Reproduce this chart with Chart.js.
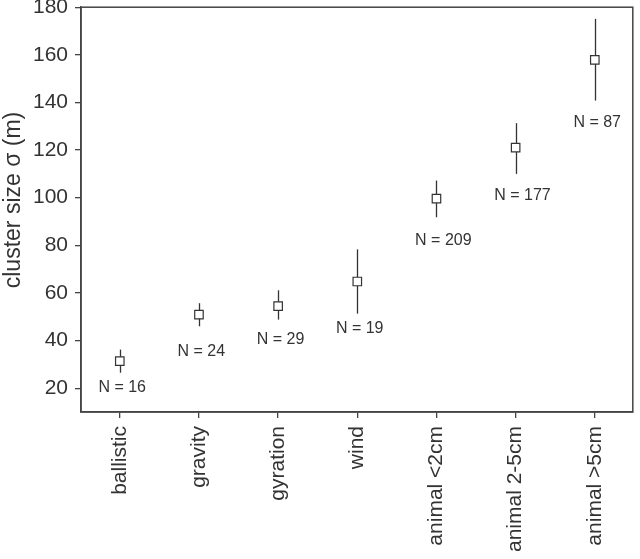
<!DOCTYPE html>
<html>
<head>
<meta charset="utf-8">
<script src="https://cdn.jsdelivr.net/npm/chart.js@4"></script>
<style>
  html, body { margin:0; padding:0; background:#fff; }
  #wrap { width:640px; height:559px; }
</style>
</head>
<body>
<div id="wrap"><canvas id="ch" width="640" height="559"></canvas></div>
<script>
// categorías y valores
const categories = ['ballistic','gravity','gyration','wind','animal <2cm','animal 2-5cm','animal >5cm'];
const means  = [31.4, 50.9, 54.5, 64.8, 99.6, 121.0, 157.9];
const upper  = [36.2, 55.7, 61.1, 78.3, 107.2, 131.3, 175.1];
const lower  = [26.5, 46.0, 48.8, 51.3, 91.8, 110.0, 140.8];
const counts = [16, 24, 29, 19, 209, 177, 87];
const countY = [20.2, 35.2, 40.4, 45.0, 81.8, 100.9, 131.7];
const yTicks = [20, 40, 60, 80, 100, 120, 140, 160, 180];
const yTitle = 'cluster size σ (m)';

const INK = '#333';
const FONT = 'Liberation Sans, Arial, Helvetica, sans-serif';

// barras de error + etiquetas N = ... + marco completo + título del eje y
const extras = {
  id:'extras',
  beforeDatasetsDraw(chart){
    const { ctx, scales:{x, y} } = chart;
    ctx.save();
    ctx.strokeStyle = INK; ctx.lineWidth = 1.3;
    means.forEach((m, i) => {
      const px = Math.round(x.getPixelForValue(i)) + 0.5;
      ctx.beginPath();
      ctx.moveTo(px, y.getPixelForValue(upper[i]));
      ctx.lineTo(px, y.getPixelForValue(lower[i]));
      ctx.stroke();
    });
    ctx.restore();
  },
  afterDraw(chart){
    const { ctx, chartArea:a, scales:{x, y} } = chart;
    ctx.save();
    ctx.fillStyle = INK;
    ctx.font = '16px ' + FONT;
    ctx.textAlign = 'left'; ctx.textBaseline = 'middle';
    counts.forEach((n, i) => {
      ctx.fillText('N = ' + n, x.getPixelForValue(i - 0.27), y.getPixelForValue(countY[i]));
    });
    ctx.strokeStyle = '#444'; ctx.lineWidth = 1.5;
    ctx.strokeRect(a.left, a.top, a.right - a.left, a.bottom - a.top);
    // título del eje y
    ctx.translate(14, 200);
    ctx.rotate(-Math.PI / 2);
    ctx.font = '23px ' + FONT;
    ctx.textAlign = 'center';
    ctx.fillText(yTitle, 0, 0);
    ctx.restore();
  }
};

new Chart(document.getElementById('ch'), {
  type:'scatter',
  data:{
    datasets:[{
      data: means.map((m, i) => ({ x:i, y:m })),
      pointStyle:'rect', pointRadius:6, pointHoverRadius:6,
      backgroundColor:'#fff', borderColor:INK, borderWidth:1.2
    }]
  },
  options:{
    responsive:false, animation:false, devicePixelRatio:1,
    layout:{ padding:{ top:0, right:3, bottom:0, left:0 } },
    plugins:{ legend:{ display:false }, tooltip:{ enabled:false } },
    scales:{
      x:{
        type:'linear', min:-0.49, max:6.48,
        afterBuildTicks: s => { s.ticks = categories.map((c, i) => ({ value:i })); },
        afterFit: s => { s.height = 147; s.paddingLeft = 0; s.paddingRight = 0; },
        border:{ display:true, color:'#444', width:1.5 },
        grid:{ drawOnChartArea:false, drawTicks:true, tickLength:6, color:'#444', lineWidth:1.3 },
        ticks:{ callback:(v) => categories[v] ?? '', maxRotation:90, minRotation:90, padding:8,
                color:INK, font:{ family:FONT, size:21 } }
      },
      y:{
        min:10, max:180,
        afterBuildTicks: s => { s.ticks = yTicks.map(v => ({ value:v })); },
        afterFit: s => { s.width = 81; s.paddingTop = 7; s.paddingBottom = 0; },
        border:{ display:true, color:'#444', width:1.5 },
        grid:{ drawOnChartArea:false, drawTicks:true, tickLength:6, color:'#444', lineWidth:1.3 },
        ticks:{ padding:7, color:INK, font:{ family:FONT, size:21 } },
        title:{ display:false }
      }
    }
  },
  plugins:[extras]
});
</script>
</body>
</html>
